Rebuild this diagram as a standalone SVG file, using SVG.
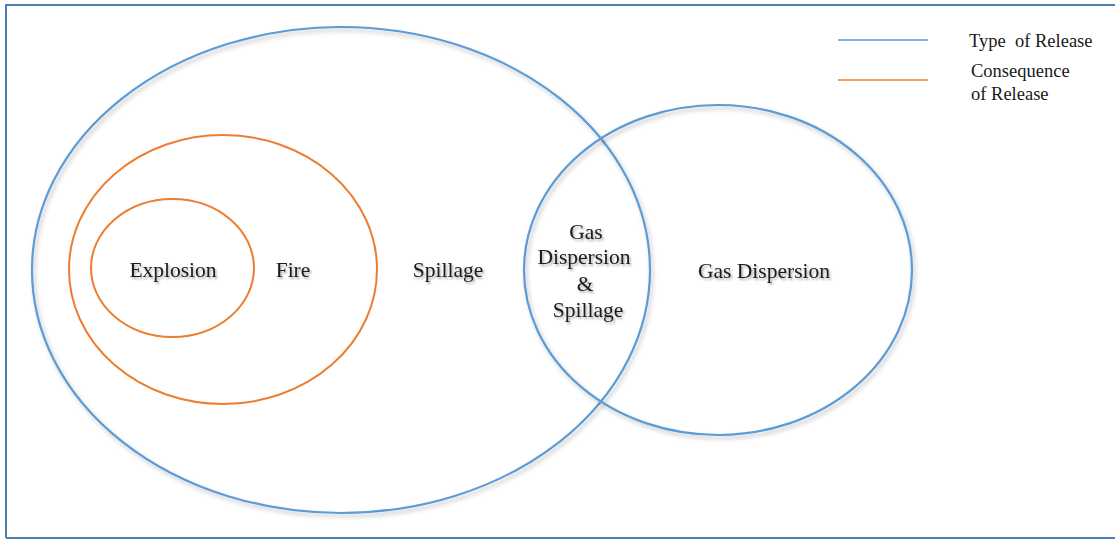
<svg xmlns="http://www.w3.org/2000/svg" width="1115" height="540" viewBox="0 0 1115 540">
<defs>
<filter id="sh" x="-10%" y="-10%" width="120%" height="120%">
<feDropShadow dx="2" dy="3" stdDeviation="2" flood-color="#000" flood-opacity="0.25"/>
</filter>
<filter id="tsh" x="-10%" y="-30%" width="120%" height="160%">
<feDropShadow dx="1.5" dy="2" stdDeviation="1.2" flood-color="#000" flood-opacity="0.35"/>
</filter>
</defs>
<style>
.blue{fill:none;stroke:#5b9bd5;stroke-width:2.2}
.orange{fill:none;stroke:#ed7d31;stroke-width:2}
.lbl{font-size:21.5px;fill:#1a1a1a;text-anchor:middle}
.leg{font-size:18.5px;fill:#1a1a1a}
</style>
<rect width="1115" height="540" fill="#fff"/>
<path d="M6 538 V5 H1115 M6 538 H1115" fill="none" stroke="#4a7fb0" stroke-width="2"/>
<g id="spillage"><ellipse class="blue" cx="341" cy="270" rx="309" ry="243" filter="url(#sh)"/></g>
<g id="gas-dispersion"><ellipse class="blue" cx="718" cy="270" rx="194" ry="165" filter="url(#sh)"/></g>
<g id="fire"><ellipse class="orange" cx="223" cy="269.5" rx="154" ry="134.5"/></g>
<g id="explosion"><ellipse class="orange" cx="172.5" cy="268" rx="81.5" ry="69"/></g>
<g id="labels" filter="url(#tsh)" font-family="Liberation Serif, DejaVu Serif, serif">
<text class="lbl" x="173" y="277">Explosion</text>
<text class="lbl" x="293" y="277">Fire</text>
<text class="lbl" x="448" y="277">Spillage</text>
<text class="lbl" x="764" y="278">Gas Dispersion</text>
<text class="lbl" x="586" y="239">Gas</text>
<text class="lbl" x="584" y="264">Dispersion</text>
<text class="lbl" x="585" y="291">&amp;</text>
<text class="lbl" x="588" y="317">Spillage</text>
</g>
<g id="legend" font-family="Liberation Serif, DejaVu Serif, serif">
<line x1="838" y1="40" x2="928" y2="40" stroke="#5b9bd5" stroke-width="1.5"/>
<line x1="838" y1="80" x2="928" y2="80" stroke="#ed7d31" stroke-width="1.5"/>
<text class="leg" x="969" y="47" xml:space="preserve">Type  of Release</text>
<text class="leg" x="971" y="77">Consequence</text>
<text class="leg" x="971" y="100">of Release</text>
</g>
</svg>
